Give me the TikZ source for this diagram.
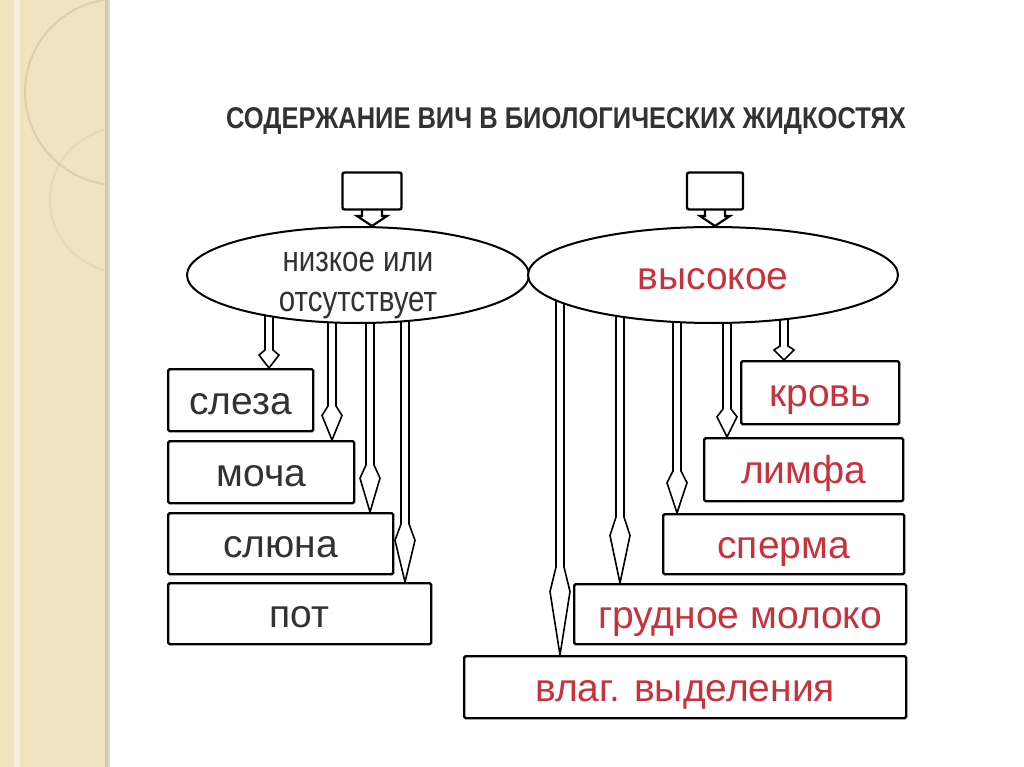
\documentclass[tikz,border=0pt]{standalone}
\usepackage{fontspec}
\setmainfont{Liberation Sans}
\usepackage{graphicx}
\usepackage{tikz}
\usepackage{xcolor}
\usetikzlibrary{shapes,calc,backgrounds,positioning}
\definecolor{hivred}{RGB}{200,50,60}
\definecolor{ink}{RGB}{50,50,50}
\definecolor{strip}{RGB}{239,227,192}

\begin{document}
\begin{tikzpicture}[
    x=1pt, y=-1pt,
    box/.style={rectangle, draw, line width=2.4pt, rounded corners=1.5pt, fill=white, anchor=north west, inner sep=0pt, text height=36pt, text depth=8pt, font=\fontsize{39}{44}\selectfont, text=ink},
    redbox/.style={box, text=hivred},
    oval/.style={ellipse, draw, line width=2pt, fill=white, inner xsep=0pt, inner ysep=-15pt, minimum height=96pt},
    tag/.style={rectangle, draw, line width=2.4pt, rounded corners=2pt, fill=white, minimum height=37pt},
    hollow/.style={line width=1.6pt, to path={let \p1=(\tikztostart), \p2=(\tikztotarget) in
        (\x2-4pt,\y1) -- (\x2-4pt,\y2+#1pt) -- (\x2-10pt,\y2+0.72*#1pt) -- (\x2,\y2)
        -- (\x2+10pt,\y2+0.72*#1pt) -- (\x2+4pt,\y2+#1pt) -- (\x2+4pt,\y1)}},
    tagstem/.style={line width=2.2pt, to path={let \p1=(\tikztostart), \p2=(\tikztotarget) in
        (\x2-10pt,\y1) -- (\x2-10pt,\y2+10pt) -- (\x2-15pt,\y2+10pt) -- (\x2,\y2)
        -- (\x2+15pt,\y2+10pt) -- (\x2+10pt,\y2+10pt) -- (\x2+10pt,\y1)}}
]
    \useasboundingbox (0,0) rectangle (1024,767);

    \node[font=\bfseries\fontsize{30}{34}\selectfont, text=ink] (title) at (566,121) {\scalebox{0.85}[1]{СОДЕРЖАНИЕ ВИЧ В БИОЛОГИЧЕСКИХ ЖИДКОСТЯХ}};

    \node[oval, minimum width=342pt, align=center, text=ink, font=\fontsize{36}{40}\selectfont] (low) at (358,275) {\rule{0pt}{40pt}\scalebox{0.82}[1]{низкое или}\\\scalebox{0.82}[1]{отсутствует}};
    \node[oval, minimum width=370pt, text=hivred, text height=36pt, text depth=8pt, font=\fontsize{39}{44}\selectfont] (high) at (713,275) {высокое};
    \node[tag, minimum width=59pt] (lowtag) at (372,191) {};
    \node[tag, minimum width=56pt] (hightag) at (715,191) {};

    \node[box, minimum width=145pt, minimum height=62pt] (sleza) at (167,368) {слеза};
    \node[box, minimum width=186pt, minimum height=62pt] (mocha) at (167,440) {моча};
    \node[box, minimum width=225pt, minimum height=61pt] (slyuna) at (167,512) {слюна};
    \node[box, minimum width=263pt, minimum height=61pt] (pot) at (167,582) {пот};

    \node[redbox, minimum width=158pt, minimum height=63pt] (krov) at (740,360) {кровь};
    \node[redbox, minimum width=199pt, minimum height=63pt] (limfa) at (703,437) {лимфа};
    \node[redbox, minimum width=241pt, minimum height=60pt] (sperma) at (662,513) {сперма};
    \node[redbox, minimum width=332pt, minimum height=60pt] (moloko) at (573,583) {грудное молоко};
    \node[redbox, minimum width=442pt, minimum height=62pt] (vlag) at (463,655) {влаг. выделения};

    \begin{scope}[on background layer]
        \fill[white] (0,0) rectangle (1024,767);
        \fill[strip] (0,0) rectangle (108,767);
        \fill[strip!55!white] (14,0) rectangle (20,767);
        \fill[strip!80!black, opacity=0.5] (105,0) rectangle (110,767);
        \begin{scope}
            \clip (0,0) rectangle (105,767);
            \draw[strip!82!black, line width=2pt, opacity=0.5] (118,92) circle [radius=93pt];
            \draw[strip!82!black, line width=2pt, opacity=0.25] (122,200) circle [radius=72pt];
        \end{scope}

        \draw[tagstem] (lowtag) to (lowtag |- low.north);
        \draw[tagstem] (hightag) to (hightag |- high.north);

        \draw[hollow=18] (269,0 |- low.center) to (269,0 |- sleza.north);
        \draw[hollow=34] (332,0 |- low.center) to (332,0 |- mocha.north);
        \draw[hollow=47] (370,0 |- low.center) to (370,0 |- slyuna.north);
        \draw[hollow=58] (405,0 |- low.center) to (405,0 |- pot.north);

        \draw[hollow=88] (560,0 |- high.center) to (560,0 |- vlag.north);
        \draw[hollow=66] (620,0 |- high.center) to (620,0 |- moloko.north);
        \draw[hollow=42] (677,0 |- high.center) to (677,0 |- sperma.north);
        \draw[hollow=28] (727,0 |- high.center) to (727,0 |- limfa.north);
        \draw[hollow=14] (784,0 |- high.center) to (784,0 |- krov.north);
    \end{scope}
\end{tikzpicture}
\end{document}
